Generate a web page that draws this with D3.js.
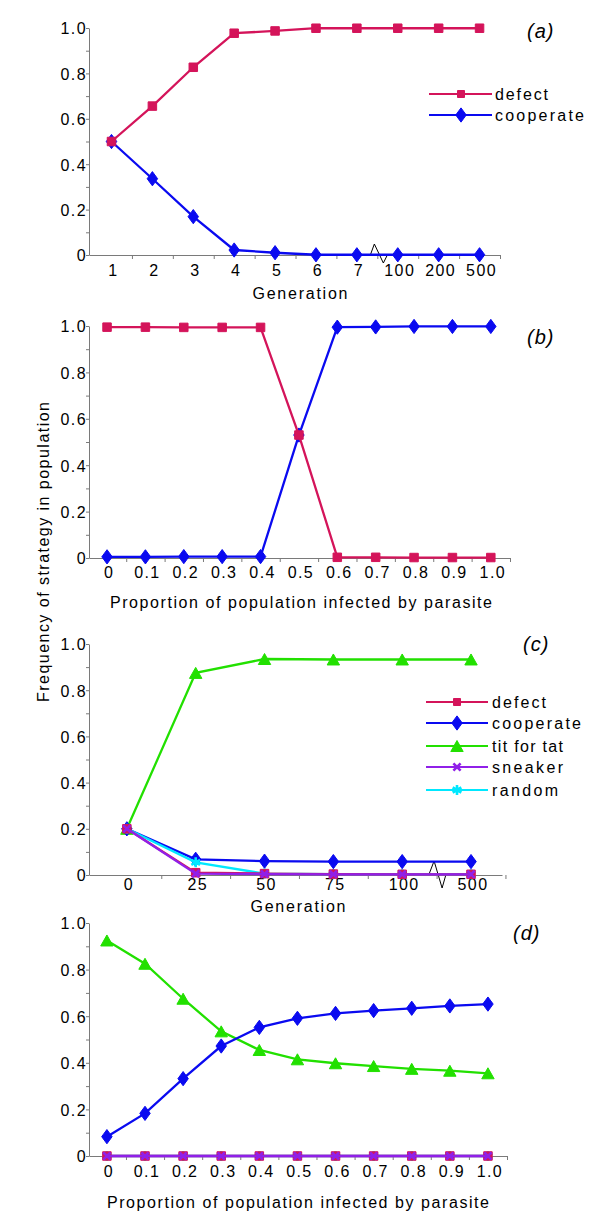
<!DOCTYPE html>
<html><head><meta charset="utf-8">
<script src="https://cdn.jsdelivr.net/npm/d3@7"></script>
<style>
body{margin:0;background:#fff;}
svg text{font-family:"Liberation Sans",Arial,sans-serif;fill:#000;}
</style></head>
<body><svg id="chart" width="600" height="1231"></svg>
<script>
// ---------- data ----------
const genA = ["1","2","3","4","5","6","7","100","200","500"];
const defectA = [0.5, 0.656, 0.827, 0.977, 0.987, 0.999, 0.999, 0.999, 0.999, 0.999];
const coopA   = [0.5, 0.336, 0.169, 0.022, 0.010, 0.001, 0.001, 0.001, 0.001, 0.001];

const propLabels = ["0","0.1","0.2","0.3","0.4","0.5","0.6","0.7","0.8","0.9","1.0"];
const defectB = [0.995, 0.995, 0.994, 0.994, 0.994, 0.53, 0.003, 0.003, 0.002, 0.002, 0.002];
const coopB   = [0.005, 0.005, 0.006, 0.006, 0.006, 0.53, 0.995, 0.996, 0.998, 0.998, 0.998];

const genC = ["0","25","50","75","100","500"];
const defectC = [0.2, 0.010, 0.006, 0.004, 0.003, 0.003];
const coopC   = [0.2, 0.068, 0.060, 0.058, 0.058, 0.058];
const titC    = [0.2, 0.875, 0.935, 0.933, 0.933, 0.933];
const sneakC  = [0.2, 0.006, 0.004, 0.003, 0.003, 0.003];
const randC   = [0.2, 0.055, 0.006, 0.004, 0.003, 0.003];

const defectD = [0,0,0,0,0,0,0,0,0,0,0];
const coopD   = [0.083, 0.183, 0.332, 0.472, 0.552, 0.591, 0.612, 0.624, 0.634, 0.644, 0.652];
const titD    = [0.925, 0.825, 0.675, 0.535, 0.455, 0.415, 0.398, 0.386, 0.374, 0.366, 0.355];
const sneakD  = [0,0,0,0,0,0,0,0,0,0,0];
const randD   = [0,0,0,0,0,0,0,0,0,0,0];

const yTickValues = [0,0.1,0.2,0.3,0.4,0.5,0.6,0.7,0.8,0.9,1.0];
const legendA = ["defect","cooperate"];
const legendC = ["defect","cooperate","tit for tat","sneaker","random"];

// ---------- styles ----------
const COL = {defect:"#d4145a", cooperate:"#0a0af0", tit:"#22e000", sneaker:"#9020e8", random:"#00e8ff"};
const AXC = "#7a7a7a";
const svg = d3.select("#chart");

function markerPath(type, s){
  const p = d3.path();
  if(type==="square"){ p.rect(-s/2,-s/2,s,s); }
  else if(type==="diamond"){ const w=s*0.55,h=s*0.75; p.moveTo(0,-h);p.lineTo(w,0);p.lineTo(0,h);p.lineTo(-w,0);p.closePath(); }
  else if(type==="triangle"){ const w=s*0.62,h=s*0.55; p.moveTo(0,-h);p.lineTo(w,h);p.lineTo(-w,h);p.closePath(); }
  else if(type==="x"){ const r=s*0.4; p.moveTo(-r,-r);p.lineTo(r,r);p.moveTo(r,-r);p.lineTo(-r,r); }
  else if(type==="star"){ const r=s*0.5; p.moveTo(0,-r);p.lineTo(0,r);p.moveTo(-r*0.87,-r*0.5);p.lineTo(r*0.87,r*0.5);p.moveTo(r*0.87,-r*0.5);p.lineTo(-r*0.87,r*0.5); }
  return p.toString();
}
function drawMarker(g, type, color, s){
  const stroked = (type==="x"||type==="star");
  return g.append("path").attr("d", markerPath(type,s))
    .attr("fill", stroked?"none":color)
    .attr("stroke", color).attr("stroke-width", stroked?2.6:1);
}

function panel(cfg){
  const g = svg.append("g");
  const x = d3.scaleLinear().domain(cfg.xd).range([cfg.left, cfg.right]);
  const y = d3.scaleLinear().domain([0,1]).range([cfg.bottom, cfg.top]);

  // y axis
  const ya = g.append("g").attr("transform",`translate(${cfg.left},0)`)
    .call(d3.axisLeft(y).tickValues(yTickValues).tickSize(3).tickSizeOuter(0).tickPadding(0)
      .tickFormat(d => { const k=Math.round(d*10); return k%2? "" : (k===0?"0":(k/10).toFixed(1)); }));
  ya.select(".domain").attr("stroke",AXC);
  ya.selectAll(".tick line").attr("stroke",AXC);
  ya.selectAll(".tick text").attr("x",-2).attr("dy","0.37em").style("font-size","16px").style("letter-spacing","1.4px");

  // x axis (ticks between categories)
  const n = cfg.labels.length;
  const tickVals = d3.range(n).map(i => i+0.5);
  const xa = g.append("g").attr("transform",`translate(0,${cfg.bottom})`)
    .call(d3.axisBottom(x).tickValues(tickVals).tickSize(4).tickSizeOuter(0).tickFormat(""));
  xa.select(".domain").attr("stroke",AXC);
  xa.selectAll(".tick line").attr("stroke",AXC);
  // x labels at categories
  const xl = g.append("g").attr("transform",`translate(0,${cfg.bottom})`)
    .call(d3.axisBottom(x).tickValues(d3.range(n)).tickSize(0).tickFormat(i => cfg.labels[i]));
  xl.select(".domain").remove();
  xl.selectAll(".tick text").attr("y",cfg.labOff).attr("dy",0).attr("dx",1.5)
    .style("font-size","16px").style("letter-spacing","1.4px");

  // axis title
  g.append("text").attr("x",cfg.titleX).attr("y",cfg.titleY).attr("text-anchor","middle")
    .attr("textLength",cfg.titleLen).attr("lengthAdjust","spacing")
    .style("font-size","16px").text(cfg.title);

  // panel label
  g.append("text").attr("x",cfg.pl[0]).attr("y",cfg.pl[1]).style("font-size","20px")
    .style("font-style","italic").style("letter-spacing","1px").text(cfg.plText);

  // break symbol
  if(cfg.brk){
    const bx = x(cfg.brk.at), by = cfg.bottom;
    const pts = cfg.brk.pts.map(p => [bx+p[0], by+p[1]]);
    g.append("path").attr("d", d3.line()(pts)).attr("fill","none").attr("stroke","#000").attr("stroke-width",1);
  }

  // series
  const line = d3.line().x((d,i)=>x(i)).y(d=>y(d));
  cfg.series.forEach(s => {
    g.append("path").datum(s.values).attr("d",line).attr("fill","none")
      .attr("stroke",s.color).attr("stroke-width",2.3);
    s.values.forEach((v,i) => {
      drawMarker(g, s.marker, s.color, s.size).attr("transform",`translate(${x(i)},${y(v)})`);
    });
  });

  // legend
  if(cfg.legend){
    const L = cfg.legend;
    L.items.forEach((it,k) => {
      const yy = L.rows[k];
      g.append("line").attr("x1",L.x1).attr("x2",L.x2).attr("y1",yy).attr("y2",yy)
        .attr("stroke",it.color).attr("stroke-width",2.2);
      drawMarker(g, it.marker, it.color, it.size).attr("transform",`translate(${L.mx},${yy})`);
      g.append("text").attr("x",L.tx).attr("y",yy+5.5).attr("textLength",it.len).attr("lengthAdjust","spacing")
        .style("font-size","16px").text(it.name);
    });
  }
  return {x,y};
}

const SQ = 8.5, DI = 9.5, TR = 10, XS = 9, ST = 10;

// ---------- panel (a) ----------
panel({
  left:89, right:500, xd:[-0.55,9.5], top:28, bottom:255, labels:genA, labOff:21,
  title:"Generation", titleX:300, titleY:299, titleLen:95,
  pl:[527,38], plText:"(a)",
  brk:{at:6.55, pts:[[-9,0],[-5,-11],[4,8],[8,0]]},
  series:[
    {values:coopA, color:COL.cooperate, marker:"diamond", size:DI},
    {values:defectA, color:COL.defect, marker:"square", size:SQ}
  ],
  legend:{x1:429,x2:492,mx:461,tx:495,rows:[94,115],
    items:[{name:legendA[0],color:COL.defect,marker:"square",size:7,len:53},
           {name:legendA[1],color:COL.cooperate,marker:"diamond",size:DI,len:89}]}
});

// ---------- panel (b) ----------
panel({
  left:89, right:510, xd:[-0.47,10.5], top:326, bottom:558, labels:propLabels, labOff:20,
  title:"Proportion of population infected by parasite", titleX:301, titleY:608, titleLen:382,
  pl:[527,344], plText:"(b)",
  series:[
    {values:coopB, color:COL.cooperate, marker:"diamond", size:DI},
    {values:defectB, color:COL.defect, marker:"square", size:SQ}
  ]
});

// ---------- panel (c) ----------
panel({
  left:89, right:502, xd:[-0.55,5.45], top:644, bottom:875, labels:genC, labOff:15,
  title:"Generation", titleX:298, titleY:912, titleLen:95,
  pl:[523,651], plText:"(c)",
  brk:{at:4.5, pts:[[-7.5,-1],[-2.5,-14],[5.5,13],[9.5,-1]]},
  series:[
    {values:titC, color:COL.tit, marker:"triangle", size:TR},
    {values:coopC, color:COL.cooperate, marker:"diamond", size:DI},
    {values:randC, color:COL.random, marker:"star", size:ST},
    {values:defectC, color:COL.defect, marker:"square", size:SQ},
    {values:sneakC, color:COL.sneaker, marker:"x", size:XS}
  ],
  legend:{x1:426,x2:488,mx:457,tx:492,rows:[702,723,746,767,790],
    items:[{name:legendC[0],color:COL.defect,marker:"square",size:7,len:54},
           {name:legendC[1],color:COL.cooperate,marker:"diamond",size:DI,len:89},
           {name:legendC[2],color:COL.tit,marker:"triangle",size:TR,len:71},
           {name:legendC[3],color:COL.sneaker,marker:"x",size:XS,len:71},
           {name:legendC[4],color:COL.random,marker:"star",size:ST,len:66}]}
});

// ---------- panel (d) ----------
panel({
  left:89, right:507, xd:[-0.47,10.5], top:923, bottom:1156, labels:propLabels, labOff:21,
  title:"Proportion of population infected by parasite", titleX:298, titleY:1208, titleLen:382,
  pl:[513,940], plText:"(d)",
  series:[
    {values:titD, color:COL.tit, marker:"triangle", size:TR},
    {values:coopD, color:COL.cooperate, marker:"diamond", size:DI},
    {values:randD, color:COL.random, marker:"star", size:ST},
    {values:defectD, color:COL.defect, marker:"square", size:SQ},
    {values:sneakD, color:COL.sneaker, marker:"x", size:XS}
  ]
});

// shared y-axis title
svg.append("text").attr("transform","translate(49,552) rotate(-90)").attr("text-anchor","middle")
  .attr("textLength",300).attr("lengthAdjust","spacing").style("font-size","16px")
  .text("Frequency of strategy in population");
</script></body></html>
